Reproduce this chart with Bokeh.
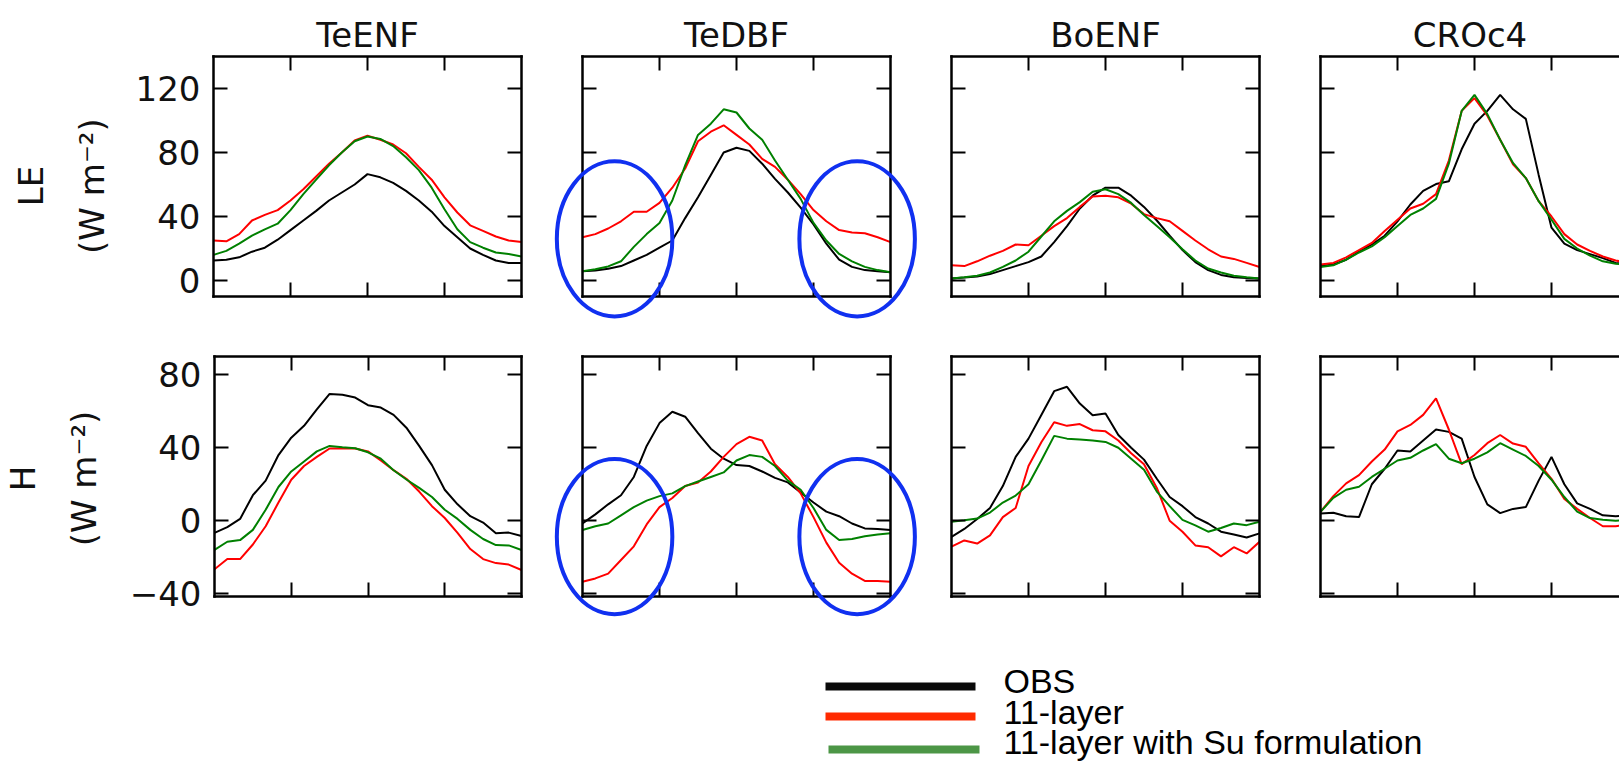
import math
from bokeh.plotting import figure
from bokeh.layouts import row, column
from bokeh.models import Range1d, LinearAxis, FixedTicker, Label, Grid
from bokeh.embed import file_html
from bokeh.resources import INLINE

# ---------------- data ----------------
SITES = ["TeENF", "TeDBF", "BoENF", "CROc4"]
MONTHS = [0, 0.5, 1, 1.5, 2, 2.5, 3, 3.5, 4, 4.5, 5, 5.5, 6,
          6.5, 7, 7.5, 8, 8.5, 9, 9.5, 10, 10.5, 11, 11.5, 12]
X_TICKS = [3, 6, 9]
LE_TICKS = [0, 40, 80, 120]
H_TICKS = [-40, 0, 40, 80]
LE_LIM = (-10, 140)
H_LIM = (-41.5, 90)
UNIT_LABEL = "(W m\u207b\u00b2)"
SERIES_NAMES = ["OBS", "11-layer", "11-layer with Su formulation"]

# LE (W m-2)
LE_TEENF_OBS = [12.5, 13, 14.5, 18, 20.5, 25.5, 31.5, 37.5, 43.5, 50, 55, 60, 66.5, 64.5, 61, 56, 50, 43, 34, 27, 20, 16, 12.5, 11, 11]
LE_TEENF_11L = [25, 24.5, 29, 37.5, 41, 44, 50, 57, 65, 73, 80, 87.5, 90.5, 88, 85, 79.5, 71, 63, 52, 42.5, 34.5, 31, 27.5, 25, 24]
LE_TEENF_SU = [16, 18.5, 23, 28, 32, 35.5, 44, 54, 63, 72, 80, 87, 90, 88.5, 84, 77, 69, 58, 44.5, 32, 24, 20.5, 17.5, 16.5, 15]

LE_TEDBF_OBS = [5.8, 6.3, 7.3, 9, 12.5, 16, 20.5, 25, 39, 52, 66, 80, 83, 81, 73, 63.5, 55, 45.5, 35, 23, 13, 8.5, 6.5, 5.8, 5.2]
LE_TEDBF_11L = [27, 29, 32.5, 37, 43, 43, 48.5, 58, 70, 87, 93, 97, 91, 85, 76, 71, 63, 54, 44, 37, 31.5, 30, 29.5, 27, 24]
LE_TEDBF_SU = [5.8, 7, 8.8, 12, 21, 29, 36, 50, 72, 91, 98, 107, 105, 95, 88, 75, 63, 51, 36, 25, 16.6, 12, 8.5, 6.5, 5.2]

LE_BOENF_OBS = [1.3, 1.8, 2.5, 4, 6.5, 9, 11.5, 15, 24, 34, 45, 53, 58, 58, 53, 46, 37.5, 28, 19, 11.5, 6.5, 3.5, 2, 1.5, 1.3]
LE_BOENF_11L = [9.6, 9, 12, 15.5, 18.5, 22.5, 22, 28, 34, 39, 46, 52.5, 53, 52, 48, 41.5, 39, 37, 31, 25, 19.5, 15, 13.5, 11, 8.4]
LE_BOENF_SU = [1.3, 2, 3, 5, 8.5, 12.5, 18, 27.5, 37, 43.5, 49, 55.5, 57, 54, 48.5, 41, 34, 27, 19.5, 12.5, 7.5, 5, 3, 2, 1.3]

LE_CROC4_OBS = [9, 10, 13, 18, 22.5, 28, 37, 47.5, 56, 60.3, 62, 82, 98, 106, 116, 107, 101, 66, 33, 23, 19, 16.5, 14, 11, 10]
LE_CROC4_11L = [10, 11, 14.5, 19, 23.5, 31, 38, 45, 48, 54, 75, 106, 114, 103, 88, 72.6, 64, 49.6, 40, 29, 22.5, 18.5, 15, 12.5, 11]
LE_CROC4_SU = [8.4, 9.5, 13, 17.5, 21.3, 27, 34, 41, 45, 51, 73, 106, 116, 104, 88, 73.5, 64, 49.6, 38, 26, 20, 15.5, 12, 10.5, 9.5]

# H (W m-2)
H_TEENF_OBS = [-6.6, -3.5, 1, 14, 22, 36, 45.5, 52, 61, 69.5, 69, 67.5, 63.3, 62, 58, 51, 41, 30.5, 17, 9, 2.5, -1, -6.8, -6.5, -8.4]
H_TEENF_11L = [-26.6, -21, -21, -13, -3, 10, 22.5, 30, 35, 39.6, 39.6, 39.6, 38, 33, 27.7, 23, 16, 8, 1.5, -6.6, -15.5, -21, -23.2, -24, -27]
H_TEENF_SU = [-16, -11.5, -10.6, -5, 6, 18.5, 27, 32.5, 38, 41, 40.3, 39.7, 37.5, 34, 27.7, 22.6, 18, 13, 6, 1, -5, -10, -13.3, -13.5, -16]

H_TEDBF_OBS = [-1.5, 3.5, 9, 14, 24, 41, 53.5, 59.7, 57, 48, 39.5, 34, 30.5, 30, 27, 23.5, 21, 15.5, 10, 5, 2.5, -1.5, -4.2, -4.5, -5.1]
H_TEDBF_11L = [-33.4, -31.6, -29, -21.5, -14, -2, 7.5, 12.5, 19, 21, 27, 35, 42, 46, 44, 31, 24, 15, 2, -12, -23, -29, -33, -33, -33.4]
H_TEDBF_SU = [-5.1, -3, -1.5, 3, 7.5, 11, 13.5, 15, 19, 21.5, 24, 26.5, 33, 36, 35, 30, 22, 17, 7, -5, -10.5, -10, -8.5, -7.5, -6.9]

H_BOENF_OBS = [-8.8, -4.5, 1, 7, 19, 35, 45, 58, 71, 73.4, 64.2, 57.8, 58.8, 47, 40, 33.5, 23, 13, 8, 2, -1.5, -6, -7.5, -9.2, -6.9]
H_BOENF_11L = [-14.2, -10.8, -12.5, -8, 2, 7, 30, 43, 54, 52, 53, 49.6, 49, 44, 37, 31, 18, 0, -6, -13.5, -14.5, -19.5, -14.5, -17.9, -11.5]
H_BOENF_SU = [-0.5, 0.3, 1.2, 4.5, 10, 13.8, 20, 33, 46.5, 45, 44.5, 44, 43.2, 40, 34, 28, 16, 8, 0.5, -2.5, -6, -4, -1.5, -2.4, -0.5]

H_CROC4_OBS = [4, 4.4, 2.5, 2, 20, 28.5, 38.5, 38, 44, 50, 48.7, 45, 24, 9, 4.2, 6.5, 7.5, 22, 35, 20, 9.5, 6.5, 3, 2.5, 3]
H_CROC4_11L = [4.9, 13.5, 20.5, 25, 32.5, 39, 49, 52.5, 58, 67, 50, 31, 36, 42.5, 47, 42.3, 40.5, 31.4, 23, 12, 6.5, 1.5, -3, -3, -2]
H_CROC4_SU = [4.9, 12.5, 17, 18.6, 24, 28.5, 33, 34.5, 38.5, 42, 34, 31.5, 34, 37.5, 42.5, 39, 35.5, 30, 22.5, 13, 5, 1.5, 0.5, 0, 0.5]

LE_DATA = [
    (LE_TEENF_OBS, LE_TEENF_11L, LE_TEENF_SU),
    (LE_TEDBF_OBS, LE_TEDBF_11L, LE_TEDBF_SU),
    (LE_BOENF_OBS, LE_BOENF_11L, LE_BOENF_SU),
    (LE_CROC4_OBS, LE_CROC4_11L, LE_CROC4_SU),
]
H_DATA = [
    (H_TEENF_OBS, H_TEENF_11L, H_TEENF_SU),
    (H_TEDBF_OBS, H_TEDBF_11L, H_TEDBF_SU),
    (H_BOENF_OBS, H_BOENF_11L, H_BOENF_SU),
    (H_CROC4_OBS, H_CROC4_11L, H_CROC4_SU),
]

# highlight ellipses on TeDBF (data units of that panel)
ELLIPSE_SITE = "TeDBF"
ELLIPSE_X = [1.25, 10.7]
ELLIPSE_W = 4.5
ELLIPSE_LE = (26, 97)     # centre y, height
ELLIPSE_H = (-8.7, 85)

# ---------------- style / layout ----------------
LINE_COLORS = ["#000000", "#ff0000", "#008000"]
LEGEND_COLORS = ["#0a0a0a", "#ff2a00", "#4c9646"]
ELLIPSE_COLOR = "#1030f0"
FONT = "DejaVu Sans"
LEG_FONT = "Liberation Sans"
FS = "34px"

TOTAL_W = 1619
TOTAL_H = 762
LABEL_W = 126
P1_LEFT = 87
LEFT_B = 30
RIGHT_B = 31
FRAME_W = 308
FRAME_H = 240
LAST_FRAME_W = TOTAL_W - (LABEL_W + P1_LEFT + FRAME_W + RIGHT_B + 2 * (LEFT_B + FRAME_W + RIGHT_B) + LEFT_B)
ROW_BORDERS = {"LE": (56, 30), "H": (30, 25)}

# y-label anchor positions (page pixels): name x, unit x
YLABEL_POS = {"LE": (30, 91), "H": (22, 83)}

# legend positions (page pixels)
LEG_X0 = [825, 825, 828]
LEG_X1 = [975, 975, 979]
LEG_Y = [686, 716, 749]
LEG_TEXT_X = 1003
LEG_BASE = [680, 711, 741]


def tick_label(t):
    return ("\u2212" + str(abs(t))) if t < 0 else str(t)


def no_grid(p):
    for g in p.select(type=Grid):
        g.visible = False


def style_axis(ax, labels=None):
    ax.axis_line_color = "black"
    ax.axis_line_width = 2.5
    ax.axis_line_cap = "square"
    ax.major_tick_line_color = "black"
    ax.major_tick_line_width = 2
    ax.major_tick_in = 14
    ax.major_tick_out = 0
    ax.minor_tick_line_color = None
    if labels is not None:
        ax.major_label_overrides = labels
        ax.major_label_text_font = FONT
        ax.major_label_text_font_size = FS
        ax.major_label_text_color = "#111111"
        ax.major_label_standoff = 13
    else:
        ax.major_label_text_color = None
        ax.major_label_text_font_size = "1px"
        ax.major_label_standoff = 0


def make_panel(var, col, series):
    first = col == 0
    last = col == len(SITES) - 1
    left = P1_LEFT if first else LEFT_B
    right = 0 if last else RIGHT_B
    fw = LAST_FRAME_W if last else FRAME_W
    top, bottom = ROW_BORDERS[var]
    lim = LE_LIM if var == "LE" else H_LIM
    yt = LE_TICKS if var == "LE" else H_TICKS
    x0, x1 = MONTHS[0], MONTHS[-1]
    p = figure(width=left + fw + right, height=top + FRAME_H + bottom,
               x_range=Range1d(x0, x0 + (x1 - x0) * fw / FRAME_W),
               y_range=Range1d(*lim),
               x_axis_location=None, y_axis_location=None,
               toolbar_location=None, output_backend="svg",
               min_border_left=left, min_border_right=right,
               min_border_top=top, min_border_bottom=bottom,
               outline_line_color=None,
               background_fill_color="white", border_fill_color="white")
    no_grid(p)
    sides = ["left", "below", "above"] + ([] if last else ["right"])
    for side in sides:
        if side in ("left", "right"):
            ax = LinearAxis(ticker=FixedTicker(ticks=yt, minor_ticks=[]))
            labels = {t: tick_label(t) for t in yt} if (side == "left" and first) else None
        else:
            ax = LinearAxis(ticker=FixedTicker(ticks=X_TICKS, minor_ticks=[]))
            labels = None
        style_axis(ax, labels)
        p.add_layout(ax, side)

    for ys, c in zip(series, LINE_COLORS):
        p.line(MONTHS, ys, line_color=c, line_width=2)

    if var == "LE":
        p.title.text = SITES[col]
        p.title.align = "center"
        p.title.text_font = FONT
        p.title.text_font_size = FS
        p.title.text_font_style = "normal"
        p.title.text_color = "#111111"
        p.title.standoff = 4

    if SITES[col] == ELLIPSE_SITE:
        cy, h = ELLIPSE_LE if var == "LE" else ELLIPSE_H
        p.ellipse(x=ELLIPSE_X, y=[cy] * len(ELLIPSE_X), width=ELLIPSE_W, height=h,
                  fill_color=None, line_color=ELLIPSE_COLOR, line_width=4, level="overlay")
    return p


def blank_fig(w, h, x0, page_top):
    f = figure(width=w, height=h,
               x_range=Range1d(x0, x0 + w),
               y_range=Range1d(page_top + h, page_top),
               x_axis_location=None, y_axis_location=None,
               toolbar_location=None, output_backend="svg",
               min_border=0, outline_line_color=None,
               background_fill_color="white", border_fill_color="white")
    no_grid(f)
    return f


def make_label_fig(var, page_top, h):
    f = blank_fig(LABEL_W, h, 0, page_top)
    top, bottom = ROW_BORDERS[var]
    cy = page_top + top + FRAME_H / 2
    nx, ux = YLABEL_POS[var]
    for txt, x in ((var, nx), (UNIT_LABEL, ux)):
        f.add_layout(Label(x=x, y=cy, text=txt, angle=math.pi / 2,
                           text_align="center", text_baseline="alphabetic",
                           text_font=FONT, text_font_size=FS, text_color="#111111"))
    return f


rows = []
page_top = 0
for var, data in (("LE", LE_DATA), ("H", H_DATA)):
    top, bottom = ROW_BORDERS[var]
    h = top + FRAME_H + bottom
    figs = [make_label_fig(var, page_top, h)]
    for col in range(len(SITES)):
        figs.append(make_panel(var, col, data[col]))
    rows.append(row(*figs, spacing=0))
    page_top += h

leg_h = TOTAL_H - page_top
leg = blank_fig(TOTAL_W, leg_h, 0, page_top)
leg.segment(x0=LEG_X0, y0=LEG_Y, x1=LEG_X1, y1=LEG_Y, line_color=LEGEND_COLORS, line_width=8)
for name, yb in zip(SERIES_NAMES, LEG_BASE):
    leg.add_layout(Label(x=LEG_TEXT_X, y=yb, text=name, text_baseline="alphabetic",
                         text_font=LEG_FONT, text_font_size=FS, text_color="#000000"))

layout = column(rows[0], rows[1], leg, spacing=0)
open("out.html", "w").write(file_html(layout, INLINE, title="LE and H"))
